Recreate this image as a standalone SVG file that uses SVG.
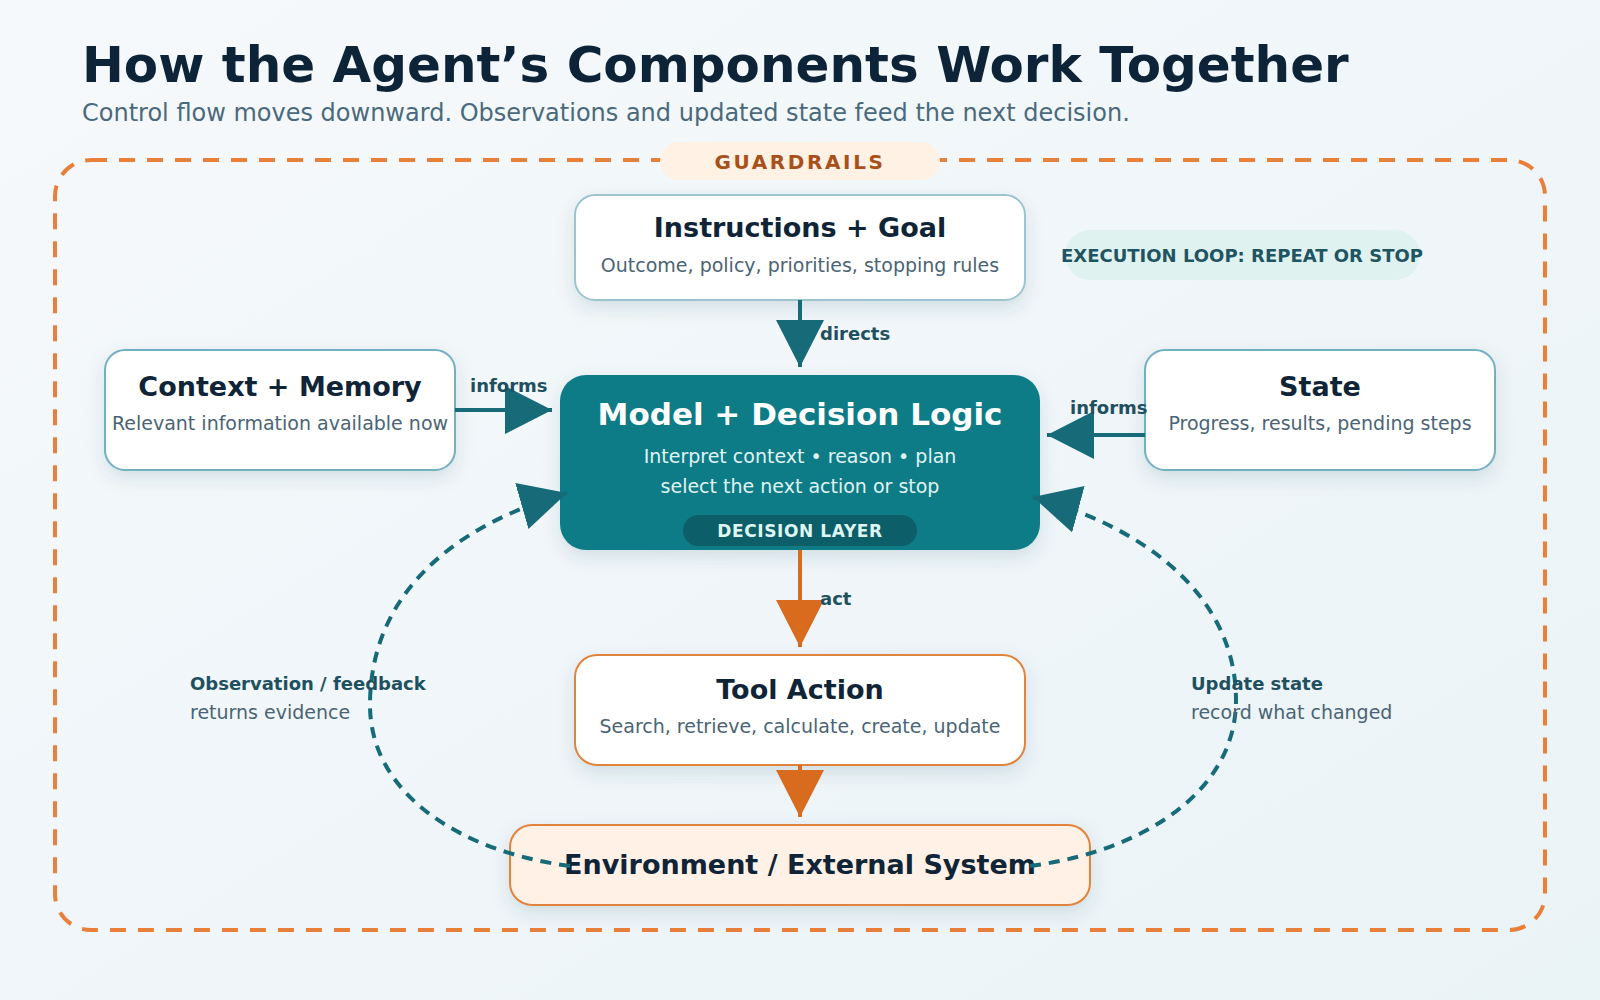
<svg xmlns="http://www.w3.org/2000/svg" width="1600" height="1000" viewBox="0 0 1600 1000">
  <defs>
    <linearGradient id="bg" x1="0" y1="0" x2="1" y2="1">
      <stop offset="0" stop-color="#f6f9fc"/>
      <stop offset="1" stop-color="#eaf3f6"/>
    </linearGradient>
    <filter id="shadow" x="-20%" y="-30%" width="140%" height="170%">
      <feDropShadow dx="0" dy="7" stdDeviation="9" flood-color="#1c4a5a" flood-opacity="0.13"/>
    </filter>
    <marker id="ahTeal" markerUnits="userSpaceOnUse" markerWidth="48" markerHeight="48" refX="47" refY="24" orient="auto" viewBox="0 0 48 48">
      <path d="M0,0 L47,24 L0,48 Z" fill="#176b78"/>
    </marker>
    <marker id="ahOrange" markerUnits="userSpaceOnUse" markerWidth="48" markerHeight="48" refX="47" refY="24" orient="auto" viewBox="0 0 48 48">
      <path d="M0,0 L47,24 L0,48 Z" fill="#d96b1e"/>
    </marker>
    <style>
      text { font-family: "DejaVu Sans", Verdana, sans-serif; }
      .title { font-size: 50px; font-weight: bold; fill: #0d2438; }
      .subtitle { font-size: 24px; fill: #4a6a7c; }
      .node { fill: #ffffff; stroke-width: 2; filter: url(#shadow); }
      .ntitle { font-size: 27px; font-weight: bold; fill: #0f2537; text-anchor: middle; }
      .nsub { font-size: 19px; fill: #4b6475; text-anchor: middle; }
      .lbl { font-size: 18px; font-weight: bold; fill: #1f5060; }
      .lsub { font-size: 19px; fill: #4b6475; }
      .conn { fill: none; stroke: #176b78; stroke-width: 4; }
      .connO { fill: none; stroke: #d96b1e; stroke-width: 4; }
      .loop { fill: none; stroke: #176b78; stroke-width: 4; stroke-dasharray: 11 8; }
    </style>
  </defs>

  <rect width="1600" height="1000" fill="url(#bg)"/>

  <text class="title" x="82" y="82">How the Agent’s Components Work Together</text>
  <text class="subtitle" x="82" y="121">Control flow moves downward. Observations and updated state feed the next decision.</text>

  <g id="guardrails">
    <rect x="55" y="160" width="1490" height="770" rx="36" fill="none" stroke="#e8803a" stroke-width="4" stroke-dasharray="16 12"/>
    <rect x="660" y="142" width="280" height="38" rx="19" fill="#fff1e4"/>
    <text x="800" y="169" text-anchor="middle" font-size="20" font-weight="bold" fill="#a8501a" letter-spacing="2.6">GUARDRAILS</text>
  </g>

  <g id="execution-loop">
    <rect x="1065" y="230" width="355" height="50" rx="25" fill="#dff2ef"/>
    <text x="1242" y="262" text-anchor="middle" font-size="18" font-weight="bold" fill="#1f5562">EXECUTION LOOP: REPEAT OR STOP</text>
  </g>

  <g id="instructions">
    <rect class="node" x="575" y="195" width="450" height="105" rx="20" stroke="#9dc4ce"/>
    <text class="ntitle" x="800" y="237">Instructions + Goal</text>
    <text class="nsub" x="800" y="272">Outcome, policy, priorities, stopping rules</text>
  </g>

  <g id="context">
    <rect class="node" x="105" y="350" width="350" height="120" rx="20" stroke="#71b0be"/>
    <text class="ntitle" x="280" y="396">Context + Memory</text>
    <text class="nsub" x="280" y="430">Relevant information available now</text>
  </g>

  <g id="state">
    <rect class="node" x="1145" y="350" width="350" height="120" rx="20" stroke="#71b0be"/>
    <text class="ntitle" x="1320" y="396">State</text>
    <text class="nsub" x="1320" y="430">Progress, results, pending steps</text>
  </g>

  <g id="model">
    <rect x="560" y="375" width="480" height="175" rx="26" fill="#0e7c86" filter="url(#shadow)"/>
    <text x="800" y="425" text-anchor="middle" font-size="31" font-weight="bold" fill="#ffffff">Model + Decision Logic</text>
    <text x="800" y="463" text-anchor="middle" font-size="19" fill="#e0f3f3">Interpret context • reason • plan</text>
    <text x="800" y="493" text-anchor="middle" font-size="19" fill="#e0f3f3">select the next action or stop</text>
    <rect x="683" y="515" width="234" height="31" rx="15.5" fill="#0c5f68"/>
    <text x="800" y="537" text-anchor="middle" font-size="17" font-weight="bold" fill="#dff5f3" letter-spacing="0.6">DECISION LAYER</text>
  </g>

  <g id="tool">
    <rect class="node" x="575" y="655" width="450" height="110" rx="22" stroke="#e0843e" stroke-width="3"/>
    <text class="ntitle" x="800" y="699">Tool Action</text>
    <text class="nsub" x="800" y="733">Search, retrieve, calculate, create, update</text>
  </g>

  <g id="environment">
    <rect x="510" y="825" width="580" height="80" rx="22" fill="#fff1e5" stroke="#e0843e" stroke-width="2" filter="url(#shadow)"/>
    <text class="ntitle" x="800" y="874">Environment / External System</text>
  </g>

  <g id="connectors">
    <line class="conn" x1="800" y1="300" x2="800" y2="367" marker-end="url(#ahTeal)"/>
    <text class="lbl" x="820" y="340">directs</text>
    <line class="conn" x1="455" y1="410" x2="552" y2="410" marker-end="url(#ahTeal)"/>
    <text class="lbl" x="470" y="392">informs</text>
    <line class="conn" x1="1145" y1="435" x2="1047" y2="435" marker-end="url(#ahTeal)"/>
    <text class="lbl" x="1070" y="414">informs</text>
    <line class="connO" x1="800" y1="550" x2="800" y2="647" marker-end="url(#ahOrange)"/>
    <text class="lbl" x="820" y="605">act</text>
    <line class="connO" x1="800" y1="765" x2="800" y2="817" marker-end="url(#ahOrange)"/>

    <path class="loop" d="M 570 866 C 461 852, 370 794, 370 705 C 370 595, 452 526, 567 493" marker-end="url(#ahTeal)"/>
    <text class="lbl" x="190" y="690">Observation / feedback</text>
    <text class="lsub" x="190" y="719">returns evidence</text>

    <path class="loop" d="M 1030 866 C 1139 852, 1236 794, 1236 700 C 1236 598, 1148 528, 1033 497" marker-end="url(#ahTeal)"/>
    <text class="lbl" x="1191" y="690">Update state</text>
    <text class="lsub" x="1191" y="719">record what changed</text>
  </g>
</svg>
